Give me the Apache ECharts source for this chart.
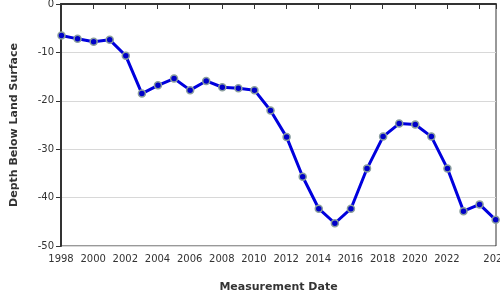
<!DOCTYPE html>
<html>
<head>
<meta charset="utf-8">
<script src="https://cdn.jsdelivr.net/npm/echarts@6/dist/echarts.min.js"></script>
<style>html,body{margin:0;padding:0;background:#fff}#c{width:500px;height:300px}</style>
</head>
<body>
<div id="c"></div>
<script>
var years = [1998,1999,2000,2001,2002,2003,2004,2005,2006,2007,2008,2009,2010,2011,2012,2013,2014,2015,2016,2017,2018,2019,2020,2021,2022,2023,2024,2025];
var depths = [-6.5,-7.2,-7.8,-7.4,-10.7,-18.5,-16.8,-15.4,-17.8,-15.9,-17.2,-17.4,-17.8,-22.0,-27.5,-35.7,-42.3,-45.3,-42.3,-34.0,-27.4,-24.7,-24.9,-27.4,-34.0,-42.8,-41.4,-44.6];
var yTicks = [0,-10,-20,-30,-40,-50];
var xMin = 1998, xMax = 2025.05;

var data = years.map(function(y,i){ return [y + 0.03, depths[i]]; });
var chart = echarts.init(document.getElementById('c'), null, {renderer:'canvas'});
chart.setOption({
  animation:false,
  grid:{left:61,right:4,top:4,bottom:54,containLabel:false,outerBoundsMode:'none',show:true,borderColor:'#333',borderWidth:1},
  xAxis:{
    type:'value', min:xMin, max:xMax, interval:2,
    name:'Measurement Date', nameLocation:'middle', nameGap:36,
    nameTextStyle:{fontFamily:'DejaVu Sans',fontWeight:'bold',fontSize:11,color:'#333'},
    axisLine:{lineStyle:{color:'#333',width:2}},
    axisTick:{show:true,length:5,lineStyle:{color:'#333',width:1}},
    axisLabel:{fontFamily:'DejaVu Sans',fontSize:10,color:'#333',margin:8,showMaxLabel:true,hideOverlap:false,
      formatter:function(v){ if(v===2024) return ''; return String(Math.floor(v)); }},
    splitLine:{show:false}
  },
  yAxis:{
    type:'value', min:yTicks[yTicks.length-1], max:yTicks[0], interval:10,
    name:'Depth Below Land Surface', nameLocation:'middle', nameGap:41,
    nameTextStyle:{fontFamily:'DejaVu Sans',fontWeight:'bold',fontSize:11,color:'#333'},
    axisLine:{show:true,lineStyle:{color:'#333',width:2}},
    axisTick:{show:true,length:5,lineStyle:{color:'#333',width:1}},
    axisLabel:{fontFamily:'DejaVu Sans',fontSize:10,color:'#333',margin:7},
    splitLine:{show:true,lineStyle:{color:'#d8d8d8',width:1}}
  },
  series:[{
    type:'line', data:data,
    lineStyle:{color:'#0000dd',width:3},
    symbol:'circle', symbolSize:7,
    itemStyle:{color:'#0000c8',borderColor:'#8a9e9e',borderWidth:1.5}
  }]
});
</script>
</body>
</html>
